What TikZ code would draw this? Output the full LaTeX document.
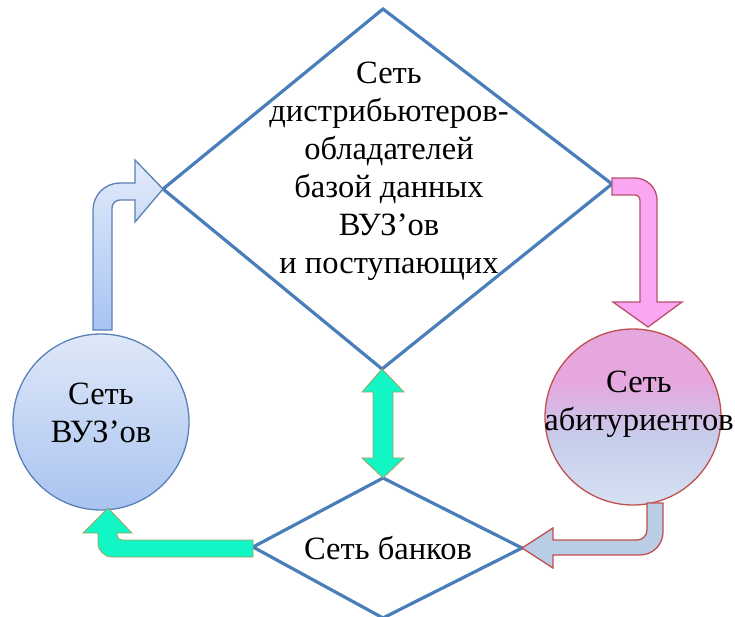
\documentclass[tikz,border=0pt]{standalone}
\usepackage{fontspec}
\setmainfont{Liberation Serif}
\definecolor{rctop}{HTML}{E6A6DE}
\definecolor{rcmid}{HTML}{C6CDEB}
\definecolor{rcbot}{HTML}{D6E0F2}
\pgfdeclareverticalshading{rcshade}{100bp}{color(0bp)=(rcbot); color(25bp)=(rcbot); color(44bp)=(rcmid); color(60bp)=(rctop); color(75bp)=(rctop); color(100bp)=(rctop)}
\begin{document}
\begin{tikzpicture}[x=1pt,y=-1pt,
  dline/.style={draw=diamondblue,line width=3.2pt,line join=miter},
  lbl/.style={align=center,font=\fontsize{32.5}{38}\selectfont,text=black,inner sep=0pt},
  bluearrow/.style={draw=circblue,line width=1.3pt,top color=arrlight,bottom color=arrdeep},
  pinkarrow/.style={draw=pinkedge,line width=1.3pt,fill=pinkfill},
  grayarrow/.style={draw=rededge,line width=1.3pt,fill=grayfill},
  greenarrow/.style={draw=greenedge,line width=0.8pt,fill=greenfill}]
\definecolor{diamondblue}{HTML}{4A7EBB}
\definecolor{circblue}{HTML}{5A80B8}
\definecolor{arrlight}{HTML}{E2EBF9}
\definecolor{arrdeep}{HTML}{A8C4F2}
\definecolor{pinkedge}{HTML}{B9506E}
\definecolor{pinkfill}{HTML}{FBA6F3}
\definecolor{rededge}{HTML}{C0504D}
\definecolor{grayfill}{HTML}{B9CDE5}
\definecolor{greenedge}{HTML}{A8A060}
\definecolor{greenfill}{HTML}{12F5C4}
\definecolor{lctop}{HTML}{DFE8F8}
\definecolor{lcbot}{HTML}{A9C3F0}
\useasboundingbox (0,0) rectangle (735,617);
\fill[white] (0,0) rectangle (735,617);

% big diamond
\coordinate (bt) at (383,9);
\coordinate (br) at (612,184);
\coordinate (bb) at (382,369);
\coordinate (bl) at (163,189);
\draw[dline] (bt) -- (br) -- (bb) -- (bl) -- cycle;
% small diamond
\coordinate (st) at (383,478);
\coordinate (sr) at (522,548);
\coordinate (sb) at (383,618);
\coordinate (sl) at (253,547);
\draw[dline] (st) -- (sr) -- (sb) -- (sl) -- cycle;

% left blue bent arrow
\path[bluearrow] (93,330) -- (93,210) .. controls (93,195) and (105,183) .. (120,183)
  -- (135,183) -- (135,160) -- (bl) -- (135,222) -- (135,200) -- (120,200)
  .. controls (115.6,200) and (112,203.6) .. (112,208) -- (112,330) -- cycle;

% pink bent arrow
\path[pinkarrow] (br) -- (612,178) -- (635,178) .. controls (647,178) and (657,188) .. (657,200)
  -- (657,302) -- (682,302) -- (648,327) -- (613,302) -- (640,302) -- (640,201)
  .. controls (640,197.7) and (638.3,195) .. (635,195) -- (612,195) -- cycle;

% circles
\node[circle,minimum size=176pt,draw=circblue,line width=1.3pt,top color=lctop,bottom color=lcbot] (vuz) at (101,422) {};
\node[circle,minimum size=176pt,draw=rededge,line width=1.3pt,shading=rcshade] (abit) at (633,417) {};

% bottom right arrow
\path[grayarrow] (647,503) -- (647,530) .. controls (647,535.5) and (642.5,540) .. (637,540)
  -- (553,540) -- (553,528) -- (sr) -- (553,568) -- (553,555) -- (640,555)
  .. controls (652.7,555) and (663,544.7) .. (663,532) -- (663,503) -- cycle;

% bottom left green arrow
\path[greenarrow] (sl) -- (253,540) -- (122,540) .. controls (119.2,540) and (117,537.8) .. (117,535)
  -- (117,533) -- (132,533) -- (108,508) -- (83,533) -- (98,533) -- (98,543)
  .. controls (98,550.7) and (104.3,557) .. (112,557) -- (253,557) -- cycle;

% middle double arrow
\path[greenarrow] (bb) -- (404,392) -- (393,392) -- (393,458) -- (404,458) -- (st)
  -- (362,458) -- (373,458) -- (373,392) -- (362,392) -- cycle;

% texts
\node[lbl] (dist) at (389,171) {Сеть\\дистрибьютеров-\\обладателей\\базой данных\\ВУЗ’ов\\и поступающих};
\node[lbl] (vuzt) at (101,413) {Сеть\\ВУЗ’ов};
\node[lbl] (abitt) at (639,404) {Сеть\\абитуриентов};
\node[lbl] (bank) at (388,548) {Сеть банков};
\end{tikzpicture}
\end{document}
